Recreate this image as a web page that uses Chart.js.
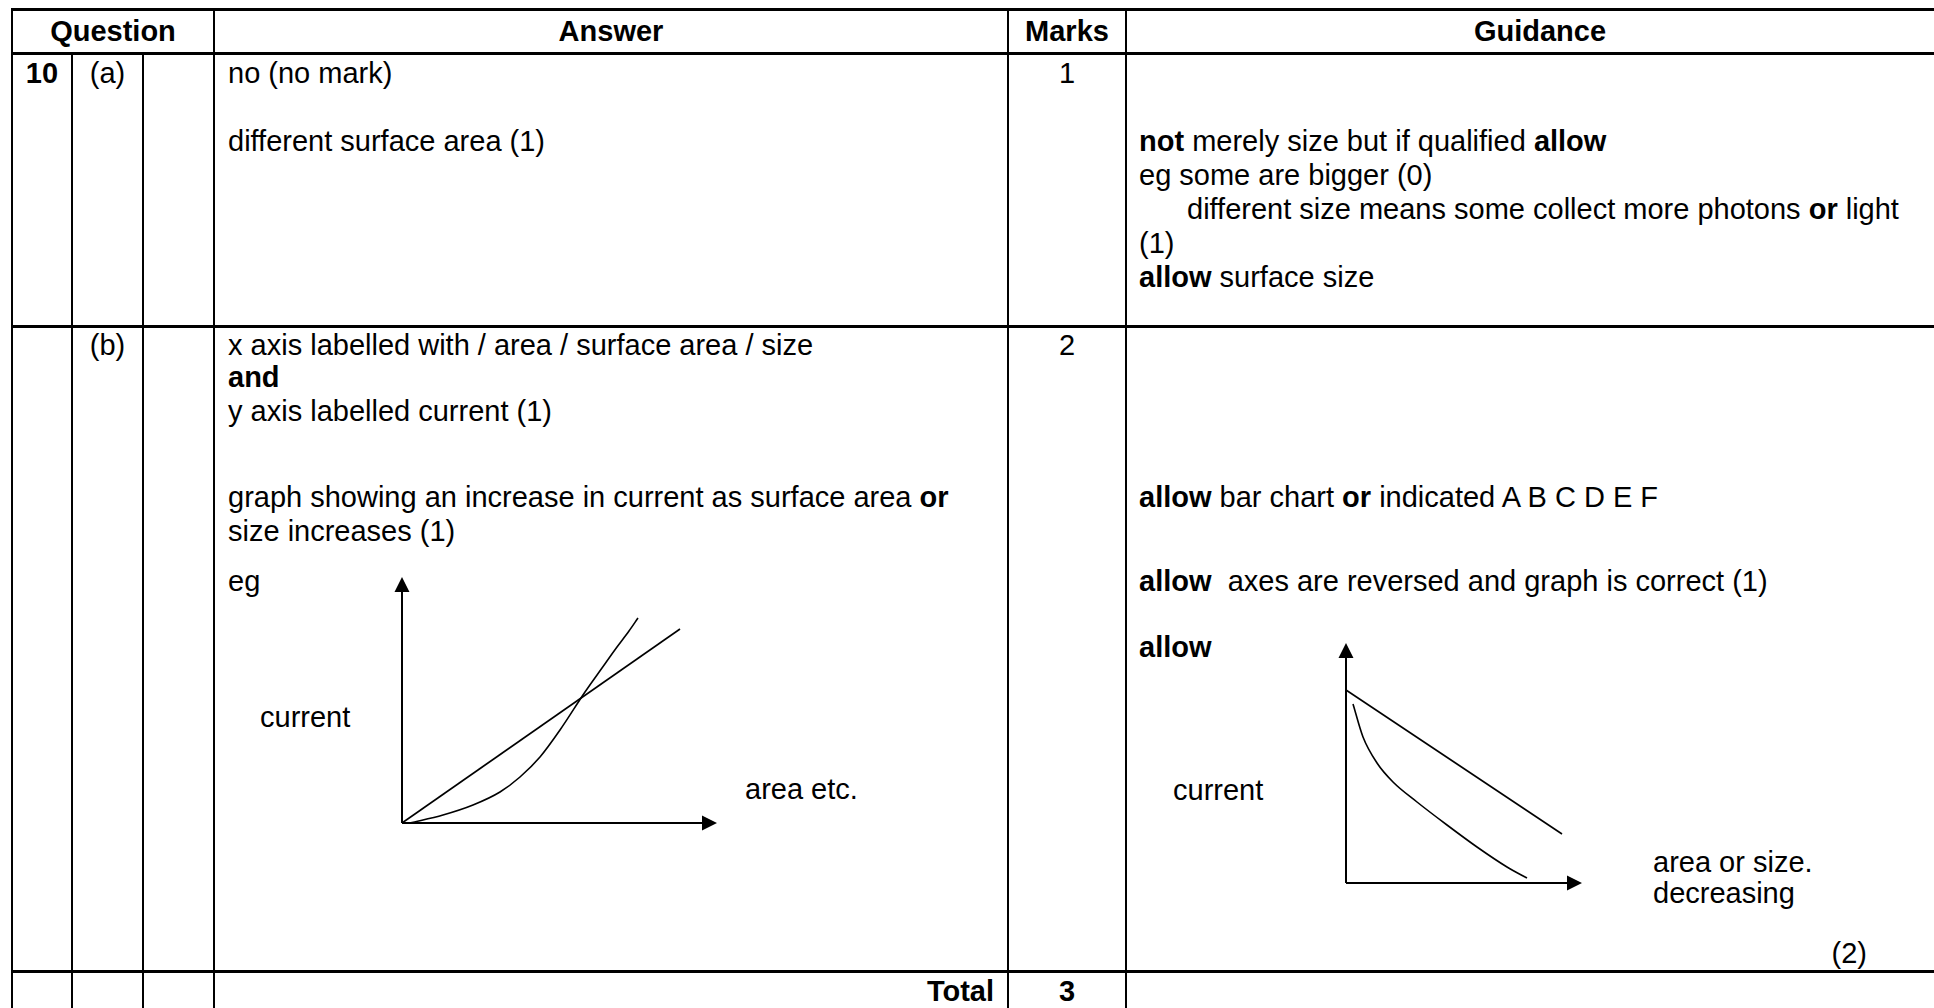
<!DOCTYPE html>
<html lang="en">
<head>
<meta charset="UTF-8">
<title>Question 10 — mark scheme</title>
<script src="https://cdn.jsdelivr.net/npm/chart.js@4.4.0/dist/chart.umd.min.js"></script>
<style>
*{box-sizing:border-box;margin:0;padding:0}
body{width:1934px;height:1008px;overflow:hidden;position:relative;background:#fff;color:#000;font-family:"Liberation Sans",Arial,sans-serif;font-size:29px}
.t{position:absolute;line-height:34px;white-space:nowrap}
.c{text-align:center}
.r{text-align:right}
.hl{position:absolute;background:#000;height:3px;left:11px;width:1930px}
.vl{position:absolute;background:#000;width:2px;bottom:-10px}
.cw{position:absolute}
</style>
</head>
<body>
<script>
// sketch 1: current rises with area (straight line and upward curve)
const incAxisMax = [315, 246];
const incLineArea = [0, 278];
const incLineCurrent = [0, 194];
const incCurveArea = [8, 41, 71, 98, 118, 138, 158, 183, 200, 215, 227, 236];
const incCurveCurrent = [0, 8, 18, 31, 46, 66, 93, 131, 155, 176, 192, 205];

// sketch 2: reversed axes allowed (straight line and falling curve)
const decAxisMax = [236, 240];
const decLineArea = [0, 216];
const decLineCurrent = [193, 49];
const decCurveArea = [7, 17, 31, 47, 71, 101, 131, 161, 181];
const decCurveCurrent = [179, 146, 120, 101, 81, 58, 36, 16, 5];
</script>

<!-- table rules -->
<div class="hl" style="top:8px"></div>
<div class="hl" style="top:52px"></div>
<div class="hl" style="top:325px"></div>
<div class="hl" style="top:970px"></div>
<div class="vl" style="left:11px;top:8px"></div>
<div class="vl" style="left:71px;top:52px"></div>
<div class="vl" style="left:142px;top:52px"></div>
<div class="vl" style="left:213px;top:8px"></div>
<div class="vl" style="left:1007px;top:8px"></div>
<div class="vl" style="left:1125px;top:8px"></div>

<!-- header -->
<div class="t c" style="left:12px;width:202px;top:14px"><b>Question</b></div>
<div class="t c" style="left:214px;width:794px;top:14px"><b>Answer</b></div>
<div class="t c" style="left:1008px;width:118px;top:14px"><b>Marks</b></div>
<div class="t c" style="left:1126px;width:828px;top:14px"><b>Guidance</b></div>

<!-- row (a) -->
<div class="t c" style="left:12px;width:60px;top:56px"><b>10</b></div>
<div class="t c" style="left:72px;width:71px;top:56px">(a)</div>
<div class="t" style="left:228px;top:56px">no (no mark)</div>
<div class="t" style="left:228px;top:124px">different surface area (1)</div>
<div class="t c" style="left:1008px;width:118px;top:56px">1</div>
<div class="t" style="left:1139px;top:124px"><b>not</b> merely size but if qualified <b>allow</b></div>
<div class="t" style="left:1139px;top:158px">eg some are bigger (0)</div>
<div class="t" style="left:1187px;top:192px">different size means some collect more photons <b>or</b> light</div>
<div class="t" style="left:1139px;top:226px">(1)</div>
<div class="t" style="left:1139px;top:260px"><b>allow</b> surface size</div>

<!-- row (b) -->
<div class="t c" style="left:72px;width:71px;top:328px">(b)</div>
<div class="t" style="left:228px;top:328px">x axis labelled with / area / surface area / size</div>
<div class="t" style="left:228px;top:360px"><b>and</b></div>
<div class="t" style="left:228px;top:394px">y axis labelled current (1)</div>
<div class="t" style="left:228px;top:480px">graph showing an increase in current as surface area <b>or</b></div>
<div class="t" style="left:228px;top:514px">size increases (1)</div>
<div class="t" style="left:228px;top:564px">eg</div>
<div class="t" style="left:260px;top:700px">current</div>
<div class="t" style="left:745px;top:772px">area etc.</div>
<div class="t c" style="left:1008px;width:118px;top:328px">2</div>
<div class="t" style="left:1139px;top:480px"><b>allow</b> bar chart <b>or</b> indicated A B C D E F</div>
<div class="t" style="left:1139px;top:564px"><b>allow</b>&nbsp; axes are reversed and graph is correct (1)</div>
<div class="t" style="left:1139px;top:630px"><b>allow</b></div>
<div class="t" style="left:1173px;top:773px">current</div>
<div class="t" style="left:1653px;top:845px">area or size.</div>
<div class="t" style="left:1653px;top:876px">decreasing</div>
<div class="t r" style="left:1700px;width:167px;top:936px">(2)</div>

<!-- total row -->
<div class="t r" style="left:214px;width:780px;top:974px"><b>Total</b></div>
<div class="t c" style="left:1008px;width:118px;top:974px"><b>3</b></div>

<div class="cw" style="left:392px;top:567px;width:335px;height:266px"><canvas id="incChart"></canvas></div>
<div class="cw" style="left:1336px;top:633px;width:256px;height:260px"><canvas id="decChart"></canvas></div>

<script>
const zip = (xs, ys) => xs.map((x, i) => ({ x, y: ys[i] }));

// axis lines with arrowheads, placed from the chart's own scales
const axesArrows = {
  id: "axesArrows",
  afterDatasetsDraw(chart) {
    const { ctx, scales: { x, y } } = chart;
    const x0 = x.getPixelForValue(0), y0 = y.getPixelForValue(0);
    const xe = x.getPixelForValue(x.max), ye = y.getPixelForValue(y.max);
    const len = 15, half = 7.5;
    ctx.save();
    ctx.strokeStyle = "#000";
    ctx.fillStyle = "#000";
    ctx.lineWidth = 2;
    ctx.beginPath();
    ctx.moveTo(x0, y0); ctx.lineTo(x0, ye + len);
    ctx.moveTo(x0, y0); ctx.lineTo(xe - len, y0);
    ctx.stroke();
    ctx.beginPath();
    ctx.moveTo(x0, ye); ctx.lineTo(x0 - half, ye + len); ctx.lineTo(x0 + half, ye + len); ctx.closePath();
    ctx.moveTo(xe, y0); ctx.lineTo(xe - len, y0 - half); ctx.lineTo(xe - len, y0 + half); ctx.closePath();
    ctx.fill();
    ctx.restore();
  }
};

function sketch(id, axisMax, datasets) {
  new Chart(document.getElementById(id), {
    type: "scatter",
    data: { datasets },
    options: {
      responsive: true, maintainAspectRatio: false, animation: false,
      layout: { padding: 10 },
      plugins: { legend: { display: false }, tooltip: { enabled: false } },
      scales: {
        x: { type: "linear", display: false, min: 0, max: axisMax[0] },
        y: { type: "linear", display: false, min: 0, max: axisMax[1] }
      }
    },
    plugins: [axesArrows]
  });
}

const lineStyle = { showLine: true, borderColor: "#000", borderWidth: 1.6, pointRadius: 0, clip: false };

sketch("incChart", incAxisMax, [
  { ...lineStyle, label: "linear", data: zip(incLineArea, incLineCurrent) },
  { ...lineStyle, label: "curve", data: zip(incCurveArea, incCurveCurrent), cubicInterpolationMode: "monotone" }
]);

sketch("decChart", decAxisMax, [
  { ...lineStyle, label: "linear", data: zip(decLineArea, decLineCurrent) },
  { ...lineStyle, label: "curve", data: zip(decCurveArea, decCurveCurrent), cubicInterpolationMode: "monotone" }
]);
</script>
</body>
</html>
